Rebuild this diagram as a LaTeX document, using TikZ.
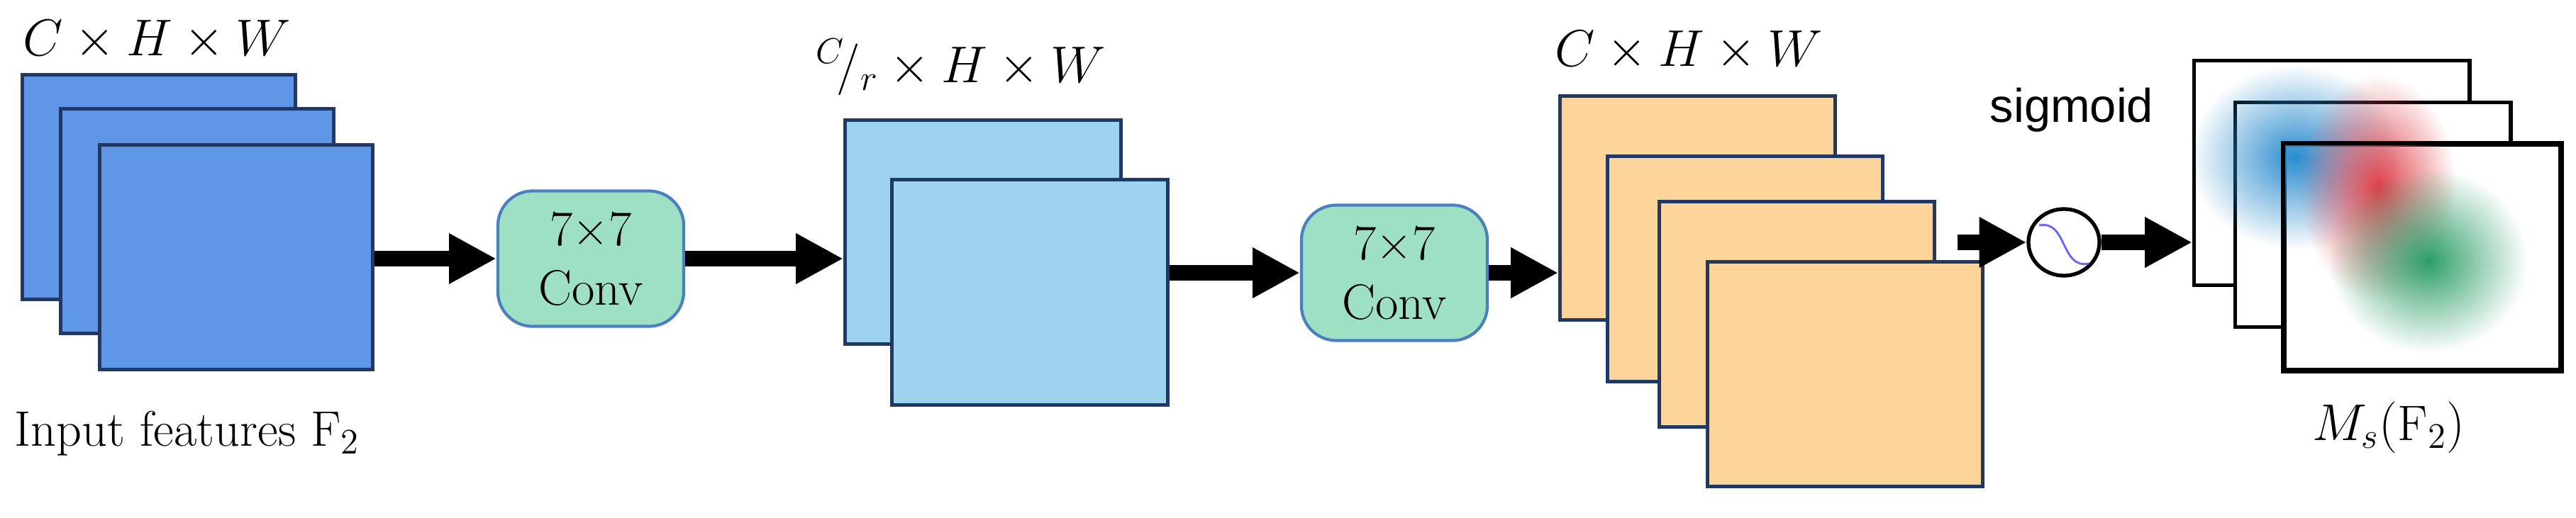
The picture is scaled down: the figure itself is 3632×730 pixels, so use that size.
\documentclass[tikz,border=0pt]{standalone}
\usepackage{fontspec}
\setmainfont{Latin Modern Roman}
\newfontfamily\sans{Liberation Sans}
\usetikzlibrary{arrows.meta,fadings,shapes.geometric}
\tikzfading[name=myblob, inner color=transparent!0, outer color=transparent!100]
\definecolor{fblue}{HTML}{6096E6}
\definecolor{lblue}{HTML}{9DD3EE}
\definecolor{orng}{HTML}{FDD59B}
\definecolor{cgreen}{HTML}{9EE0C4}
\definecolor{cedge}{HTML}{4A7FC0}
\definecolor{navy}{HTML}{1F3864}
\definecolor{bblob}{HTML}{2B8CCF}
\definecolor{rblob}{HTML}{E0404A}
\definecolor{gblob}{HTML}{2E9E68}
\begin{document}
\begin{tikzpicture}[x=0.01cm,y=-0.01cm,
  fm/.style={draw=navy,line width=1.3pt,minimum width=3.85cm,minimum height=3.17cm,inner sep=0,anchor=north west},
  wm/.style={draw=black,line width=1.5pt,fill=white,minimum width=3.88cm,minimum height=3.17cm,inner sep=0,anchor=north west},
  conv/.style={draw=cedge,line width=1.2pt,fill=cgreen,rounded corners=14pt,minimum width=2.62cm,minimum height=1.91cm,align=center,font=\fontsize{20}{24}\selectfont},
  arr/.style={line width=6.5pt,-{Triangle[length=19pt,width=19pt]}},
  lab/.style={font=\fontsize{20}{24}\selectfont}]
\useasboundingbox (0,0) rectangle (3632,730);
% blue stack
\node[fm,fill=fblue] (b1) at (29,103) {};
\node[fm,fill=fblue] (b2) at (83,151) {};
\node[fm,fill=fblue] (b3) at (138,202) {};
\node[lab] (tb) at (221,57) {$C\times H\times W$};
\node[lab] (tin) at (264,612) {Input features F$_2$};
% conv 1
\node[conv] (c1) at (833,365) {7×7\\Conv};
% light blue stack
\node[fm,fill=lblue,minimum width=3.89cm,minimum height=3.16cm] (l1) at (1189,167) {};
\node[fm,fill=lblue,minimum width=3.89cm,minimum height=3.18cm] (l2) at (1255,251) {};
\node[lab] (tl) at (1355,95) {${}^{C}\!/_{r}\times H\times W$};
% conv 2
\node[conv] (c2) at (1966,385) {7×7\\Conv};
% orange stack
\node[fm,fill=orng,minimum width=3.88cm,minimum height=3.16cm] (o1) at (2197,133) {};
\node[fm,fill=orng,minimum width=3.88cm,minimum height=3.18cm] (o2) at (2264,218) {};
\node[fm,fill=orng,minimum width=3.88cm,minimum height=3.18cm] (o3) at (2337,282) {};
\node[fm,fill=orng,minimum width=3.88cm,minimum height=3.17cm] (o4) at (2405,367) {};
\node[lab] (to) at (2381,72) {$C\times H\times W$};
% sigmoid
\node[draw=black,line width=1.5pt,ellipse,minimum width=1.0cm,minimum height=0.94cm,inner sep=0] (sg) at (2910,342) {};
\draw[blue!60,line width=0.8pt] (2875,318) .. controls (2915,310) and (2905,380) .. (2945,372);
\node[font=\sans\fontsize{19}{22}\selectfont] (ts) at (2921,155) {sigmoid};
% output maps
\node[wm] (w1) at (3091,83) {};
\node[wm] (w2) at (3149,142) {};
\node[wm] (w3) at (3219,202) {};
\begin{scope}
\clip (3093,85) rectangle (3605,517);
\fill[bblob, path fading=myblob] (3237,222) ellipse (150 and 130);
\fill[rblob, path fading=myblob] (3353,265) ellipse (110 and 160);
\fill[gblob, path fading=myblob] (3424,368) ellipse (140 and 130);
\end{scope}
\draw[black,line width=1.5pt] (w3.north west) rectangle (w3.south east);
\node[lab] (tm) at (3368,603) {$M_s(\mathrm{F}_2)$};
% arrows
\draw[arr] (b3.east |- c1) -- (c1.west);
\draw[arr] (c1.east) -- (c1.east -| l1.west);
\draw[arr] (l2.east |- c2) -- (c2.west);
\draw[arr] (c2.east) -- (c2.east -| o1.west);
\coordinate (a5) at ([xshift=0.3cm]o3.east |- sg);
\draw[arr] (a5) -- (sg.west);
\draw[arr] (sg.east) -- (sg.east -| w1.west);
\end{tikzpicture}
\end{document}
